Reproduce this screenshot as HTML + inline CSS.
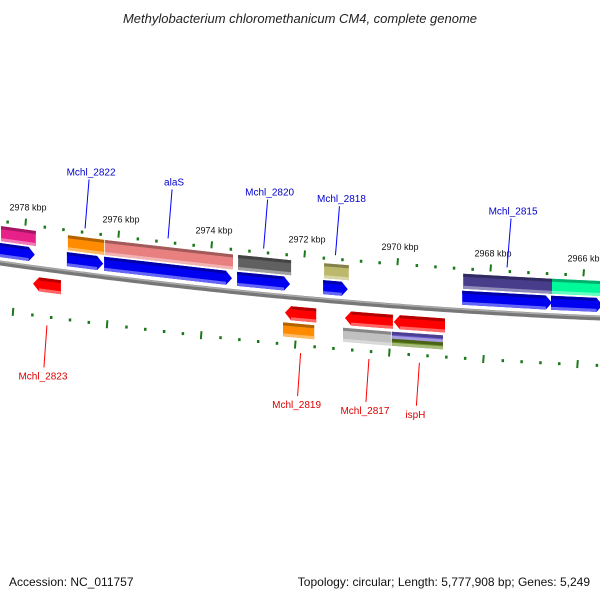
<!DOCTYPE html>
<html><head><meta charset="utf-8"><style>
html,body{margin:0;padding:0;background:#fff}
svg{display:block;font-family:"Liberation Sans","DejaVu Sans",sans-serif}
</style></head><body>
<svg id="c" width="600" height="600" viewBox="0 0 600 600" xmlns="http://www.w3.org/2000/svg">
<text x="300" y="23" text-anchor="middle" font-size="13" font-style="italic" fill="#222">Methylobacterium chloromethanicum CM4, complete genome</text>
<text x="9" y="586" font-size="12" fill="#111">Accession: NC_011757</text>
<text x="590" y="586" font-size="12" fill="#111" text-anchor="end">Topology: circular; Length: 5,777,908 bp; Genes: 5,249</text>
<g id="plot"></g>
</svg>
<script>
// data
const tickKbp = [2980, 2978, 2976, 2974, 2972, 2970, 2968, 2966];
const tickLabels = ["2980 kbp","2978 kbp","2976 kbp","2974 kbp","2972 kbp","2970 kbp","2968 kbp","2966 kbp"];
const geneNames = ["g_pink","Mchl_2822","alaS","Mchl_2820","Mchl_2818","Mchl_2815","g_green","Mchl_2823","Mchl_2819","Mchl_2817","ispH"];
const geneStart = [2978.56,2977.12,2976.32,2973.46,2971.61,2968.62,2966.71,2977.85,2972.43,2971.14,2970.09];
const geneEnd   = [2977.81,2976.34,2973.57,2972.32,2971.08,2966.69,2965.60,2977.25,2971.76,2970.11,2968.99];
const geneStrand= [1,1,1,1,1,1,1,-1,-1,-1,-1];
const geneColor = ["#e8208a","#ff8c00","#e88080","#606060","#bcb86c","#483d8b","#00fa9a","","#ff8c00","#c0c0c0","#6a5acd|#6b8e23"];
const labeled   = [false,true,true,true,true,true,false,true,true,true,true];

const NS="http://www.w3.org/2000/svg";
const g=document.getElementById('plot');
function X(k){return 26+(2978-k)*46.5;}
function Y(x){return 263+0.0917*x-8.33e-5*x*(x-600);}
function mk(tag,attrs,parent){const e=document.createElementNS(NS,tag);for(const k in attrs)e.setAttribute(k,attrs[k]);(parent||g).appendChild(e);return e;}
function shade(c,f){const n=parseInt(c.slice(1),16);let r=n>>16,gg=(n>>8)&255,b=n&255;
 const m=v=>Math.max(0,Math.min(255,Math.round(f<1?v*f:v+(255-v)*(f-1))));return `rgb(${m(r)},${m(gg)},${m(b)})`;}
function poly(pts,fill,name){const p=mk('polygon',{points:pts.map(q=>q[0].toFixed(1)+','+q[1].toFixed(1)).join(' '),fill:fill});
 
 return p;}
function box(x1,x2,o1,o2,color,name,dir){
 const h=6;
 let pts;
 if(dir===1) pts=[[x1,Y(x1)+o1],[x2-h,Y(x2-h)+o1],[x2,Y(x2)+(o1+o2)/2],[x2-h,Y(x2-h)+o2],[x1,Y(x1)+o2]];
 else if(dir===-1) pts=[[x1+h,Y(x1+h)+o1],[x2,Y(x2)+o1],[x2,Y(x2)+o2],[x1+h,Y(x1+h)+o2],[x1,Y(x1)+(o1+o2)/2]];
 else pts=[[x1,Y(x1)+o1],[x2,Y(x2)+o1],[x2,Y(x2)+o2],[x1,Y(x1)+o2]];
 poly(pts,color,name);
 const xa=dir===-1?x1+h:x1, xb=dir===1?x2-h:x2;
 poly([[xa,Y(xa)+o1],[xb,Y(xb)+o1],[xb,Y(xb)+o1+3],[xa,Y(xa)+o1+3]],shade(color,0.7),name+'-top-shade');
 poly([[xa,Y(xa)+o2-3],[xb,Y(xb)+o2-3],[xb,Y(xb)+o2],[xa,Y(xa)+o2]],shade(color,1.4),name+'-bottom-shade');
}
// backbone
let d='';for(let x=-5;x<=605;x+=5)d+=(x===-5?'M':'L')+x+','+Y(x).toFixed(1);
let bb=mk('path',{d:d,stroke:'#777',fill:'none','stroke-width':5});


let bb2=mk('path',{d:d,stroke:'#aaa',fill:'none','stroke-width':1.5,transform:'translate(0,-1.5)'});


// ticks
for(let i=0;i<tickKbp.length;i++){
 for(let j=0;j<5;j++){
  const k=tickKbp[i]-j*0.4;
  const xu=X(k), xl=xu-13+ (xu/600)*7;
  if(xu<-5||xu>605)continue;
  if(j===0){
   let t=mk('line',{x1:xu,y1:Y(xu)-48,x2:xu-0.6,y2:Y(xu)-41,stroke:'#1a7a1a','stroke-width':2});
   
   
   let t2=mk('line',{x1:xl,y1:Y(xl)+43,x2:xl-0.6,y2:Y(xl)+51,stroke:'#1a7a1a','stroke-width':2});
   
   
   let lb=mk('text',{x:xu+2,y:Y(xu)-56,'font-size':9,fill:'#111','text-anchor':'middle'});
   lb.textContent=tickLabels[i];
   
   
  } else {
   let t=mk('rect',{x:xu-1,y:Y(xu)-43.5,width:2.5,height:3,fill:'#1a7a1a'});
   
   
   let t2=mk('rect',{x:xl-1,y:Y(xl)+46,width:2.5,height:3,fill:'#1a7a1a'});
   
   
  }
 }
}
// genes
for(let i=0;i<geneNames.length;i++){
 const x1=X(geneStart[i]), x2=X(geneEnd[i]);
 const nm=geneNames[i].toLowerCase().replace('_','-');
 if(geneStrand[i]===1){
  box(x1,x2,-20,-6,'#0000f0',nm+'-cds',1);
  box(x1+1,x2+1,-37,-22,geneColor[i],nm+'-feature',0);
  if(labeled[i]){
   const lx=(x1+x2)/2;
   let l=mk('line',{x1:lx+4,y1:Y(lx)-95,x2:lx,y2:Y(lx)-46,stroke:'#00f','stroke-width':1});
   
   
   let t=mk('text',{x:lx+6,y:Y(lx)-99,'font-size':10,fill:'#00c','text-anchor':'middle'});
   t.textContent=geneNames[i];
   
   
  }
 } else {
  box(x1,x2,9,23,'#ff0000',nm+'-cds',-1);
  if(geneColor[i]){
   const cs=geneColor[i].split('|');
   if(cs.length===2){box(x1-2,x2-2,26,33,cs[0],nm+'-feature-a',0);box(x1-2,x2-2,33,40,cs[1],nm+'-feature-b',0);}
   else box(x1-2,x2-2,26,40,cs[0],nm+'-feature',0);
  }
  if(labeled[i]){
   const lx=(x1+x2)/2;
   let l=mk('line',{x1:lx,y1:Y(lx)+(i===7?56:55),x2:lx-3,y2:Y(lx)+98,stroke:'#f00','stroke-width':1});
   
   
   let t=mk('text',{x:lx-4,y:Y(lx)+110,'font-size':10,fill:'#d00','text-anchor':'middle'});
   t.textContent=geneNames[i];
   
   
  }
 }
}
</script>
</body></html>
